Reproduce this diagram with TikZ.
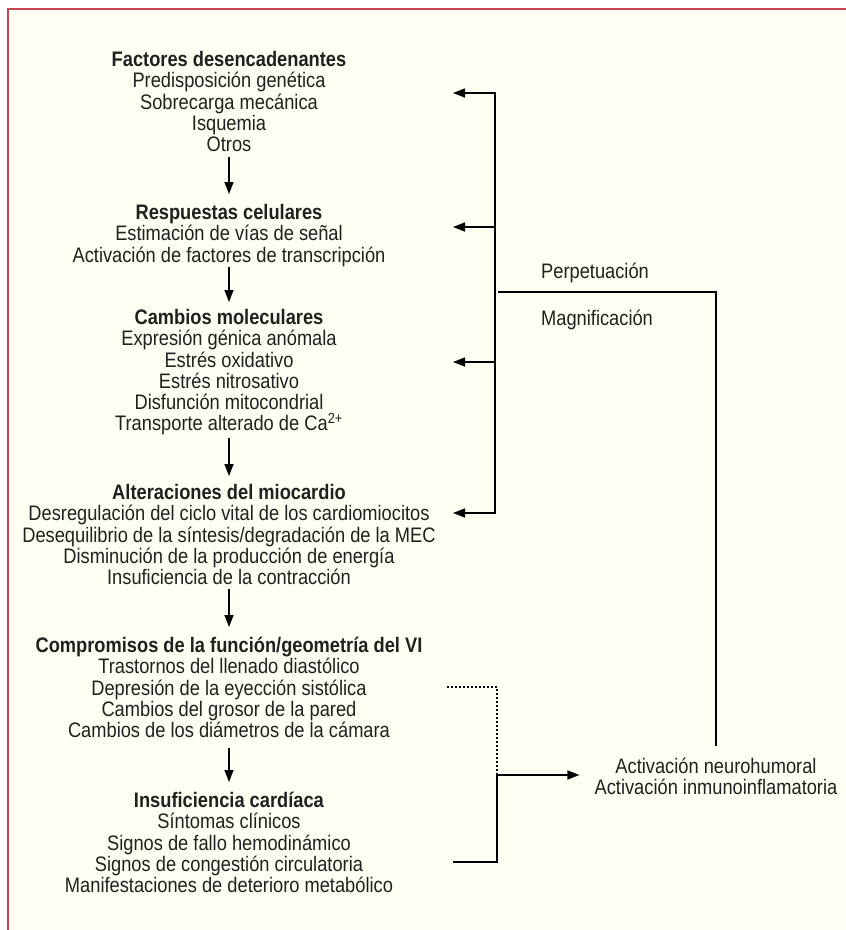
\documentclass[tikz,border=0pt]{standalone}
\usepackage{fontspec}
\setmainfont{Liberation Sans}[FakeStretch=0.87]
\usetikzlibrary{arrows.meta}

\definecolor{paper}{RGB}{255,255,243}
\definecolor{framered}{RGB}{200,69,79}
\definecolor{ink}{RGB}{35,31,32}

\begin{document}
\begin{tikzpicture}[
        x=1pt, y=-1pt,
        txt/.style={
            align=center,
            inner sep=0pt,
            anchor=north,
            text=ink,
            font=\fontsize{21}{21.3}\selectfont
        },
        lbl/.style={
            inner sep=0pt,
            anchor=base west,
            text=ink,
            font=\fontsize{21}{21.3}\selectfont
        },
        link/.style={
            line width=1.4pt
        },
        arrow/.style={
            -{Triangle[length=12pt,width=9pt]},
            line width=1.4pt
        },
        hint/.style={
            line width=1.1pt,
            dash pattern=on 2pt off 2pt
        }
    ]

    % Page and frame
    \useasboundingbox (0,0) rectangle (846,930);
    \fill[white] (0,0) rectangle (846,930);
    \fill[paper] (8,9) rectangle (846,930);
    \draw[framered, line width=1.6pt] (846,9) -- (8,9) -- (8,930);

    % Main cascade
    \node[txt] (trig) at (229,51) {
        \textbf{Factores desencadenantes}\\
        Predisposición genética\\
        Sobrecarga mecánica\\
        Isquemia\\
        Otros
    };

    \node[txt] (resp) at (229,204) {
        \textbf{Respuestas celulares}\\
        Estimación de vías de señal\\
        Activación de factores de transcripción
    };

    \node[txt] (molec) at (229,309) {
        \textbf{Cambios moleculares}\\
        Expresión génica anómala\\
        Estrés oxidativo\\
        Estrés nitrosativo\\
        Disfunción mitocondrial\\
        Transporte alterado de Ca\textsuperscript{2+}
    };

    \node[txt] (myo) at (229,484) {
        \textbf{Alteraciones del miocardio}\\
        Desregulación del ciclo vital de los cardiomiocitos\\
        Desequilibrio de la síntesis/degradación de la MEC\\
        Disminución de la producción de energía\\
        Insuficiencia de la contracción
    };

    \node[txt] (lvfun) at (229,637) {
        \textbf{Compromisos de la función/geometría del VI}\\
        Trastornos del llenado diastólico\\
        Depresión de la eyección sistólica\\
        Cambios del grosor de la pared\\
        Cambios de los diámetros de la cámara
    };

    \node[txt] (hf) at (229,792) {
        \textbf{Insuficiencia cardíaca}\\
        Síntomas clínicos\\
        Signos de fallo hemodinámico\\
        Signos de congestión circulatoria\\
        Manifestaciones de deterioro metabólico
    };

    % Activation box on the right
    \node[txt] (activ) at (716,758) {
        Activación neurohumoral\\
        Activación inmunoinflamatoria
    };

    % Loop labels
    \node[lbl] (perp) at (541,278) {Perpetuación};
    \node[lbl] (magn) at (541,325) {Magnificación};

    % Cascade arrows
    \draw[arrow] ([yshift=-5pt]trig.south) -- ([yshift=10pt]resp.north);
    \draw[arrow] (resp.south) -- ([yshift=7pt]molec.north);
    \draw[arrow] ([yshift=-3pt]molec.south) -- ([yshift=8pt]myo.north);
    \draw[arrow] ([yshift=-4pt]myo.south) -- ([yshift=10pt]lvfun.north);
    \draw[arrow] ([yshift=-10pt]lvfun.south) -- ([yshift=10pt]hf.north);

    % Feedback bus
    \coordinate (tipA) at (453,93);
    \coordinate (tipB) at (453,227);
    \coordinate (tipC) at (453,362);
    \coordinate (tipD) at (453,513);
    \coordinate (busBot) at (495,513);
    \coordinate (busJoin) at (498,292);

    \draw[link, {Triangle[length=12pt,width=9pt]}-{Triangle[length=12pt,width=9pt]}]
        (tipA) -| (busBot) -- (tipD);
    \draw[arrow] (busBot |- tipB) -- (tipB);
    \draw[arrow] (busBot |- tipC) -- (tipC);

    % Loop back from activation
    \draw[link] ([yshift=12pt]activ.north) |- (busJoin);

    % Inputs to activation
    \coordinate (lvEnd) at (447,687);
    \coordinate (hfEnd) at (453,862);
    \coordinate (junc) at (497,775);

    \draw[hint] (lvEnd) -| (junc);
    \draw[link] (hfEnd) -| (junc);
    \draw[arrow] (junc) -- ([xshift=-15pt]activ.west |- junc);

\end{tikzpicture}
\end{document}
